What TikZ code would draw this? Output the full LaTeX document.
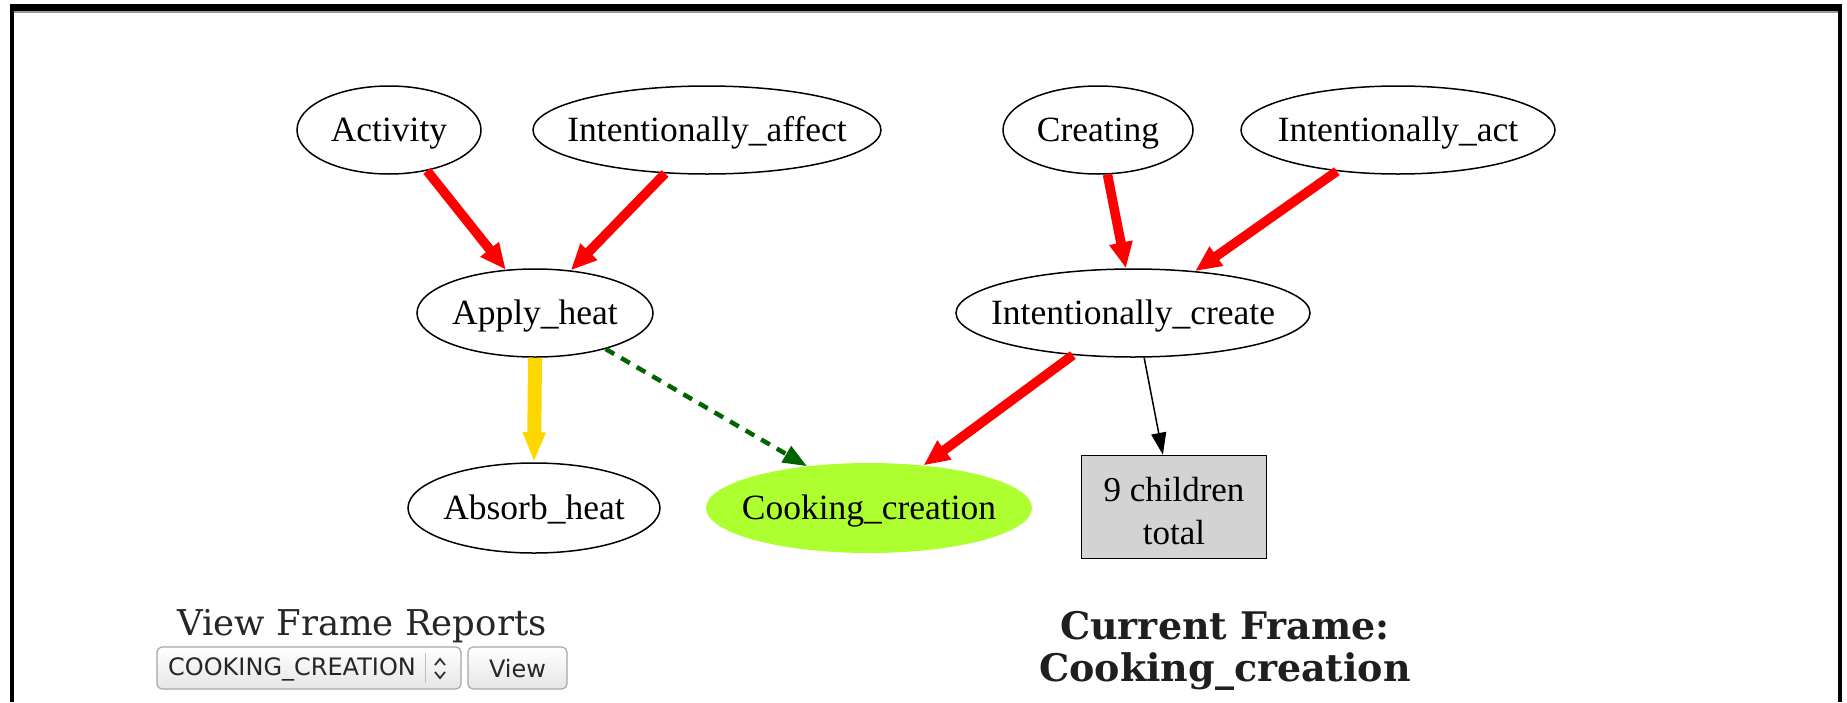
\documentclass[tikz,border=0pt]{standalone}
\usepackage{fontspec}
\setmainfont{Liberation Serif}
\newfontfamily\dvserif{DejaVu Serif}
\newfontfamily\dvsans{DejaVu Sans}
\usetikzlibrary{shapes.geometric,arrows.meta}
\definecolor{gvred}{HTML}{FF0000}
\definecolor{gvgold}{HTML}{FFD700}
\definecolor{gvgreen}{HTML}{006400}
\definecolor{gvyg}{HTML}{ADFF2F}
\definecolor{gvgray}{HTML}{D3D3D3}
\newcommand{\lbl}[1]{\makebox[0pt]{\raisebox{-11pt}[0pt][0pt]{#1}}}
\begin{document}
\begin{tikzpicture}[x=1pt,y=-1pt,
  fnode/.style={ellipse,draw=black,line width=1.5pt,inner sep=0pt,
    font=\fontsize{35.5}{40}\selectfont},
  curnode/.style={ellipse,draw=none,fill=gvyg,inner sep=0pt,
    font=\fontsize{35.5}{40}\selectfont},
  morebox/.style={rectangle,draw=black,line width=1.5pt,fill=gvgray,inner sep=0pt},
  moretext/.style={align=center,font=\fontsize{35}{43}\selectfont,inner sep=0pt},
  redarrow/.style={draw=gvred,line width=9.5pt,-{Triangle[length=26pt,width=22pt]}},
  goldarrow/.style={draw=gvgold,line width=14pt,-{Triangle[length=30pt,width=21pt]}},
  greenarrow/.style={draw=gvgreen,line width=4.5pt,dash pattern=on 10pt off 8pt,
    -{Triangle[length=24pt,width=18pt]}},
  blackarrow/.style={draw=black,line width=1.5pt,-{Triangle[length=22pt,width=15pt]}},
  btn/.style={rectangle,rounded corners=5pt,draw=black!35,line width=1.2pt,
    top color=white,bottom color=black!10,inner sep=0pt},
]
\useasboundingbox (0,0) rectangle (1847,702);
% page frame
\fill[black] (10,4) rectangle (1842,11);
\fill[black!40] (14,11) rectangle (1838,12.5);
\fill[black] (10,4) rectangle (14,702);
\fill[black] (1838,4) rectangle (1842,702);

% graph nodes
\node[fnode,minimum width=184pt,minimum height=88pt] (act) at (389,130) {\lbl{Activity}};
\node[fnode,minimum width=348pt,minimum height=88pt] (iaf) at (707,130) {\lbl{Intentionally\_affect}};
\node[fnode,minimum width=190pt,minimum height=88pt] (cre) at (1098,130) {\lbl{Creating}};
\node[fnode,minimum width=314pt,minimum height=88pt] (iac) at (1398,130) {\lbl{Intentionally\_act}};
\node[fnode,minimum width=236pt,minimum height=88pt] (aph) at (535,313) {\lbl{Apply\_heat}};
\node[fnode,minimum width=354pt,minimum height=88pt] (icr) at (1133,313) {\lbl{Intentionally\_create}};
\node[fnode,minimum width=252pt,minimum height=90pt] (abh) at (534,508) {\lbl{Absorb\_heat}};
\node[curnode,minimum width=326pt,minimum height=90pt] (coo) at (869,508) {\lbl{Cooking\_creation}};
\node[morebox,minimum width=185pt,minimum height=103pt] (more) at (1174,507) {};
\node[moretext] (moretxt) at ([yshift=-4pt]more.center) {9 children\\total};

% connectors
\draw[redarrow] (act.-47) -- (aph.124);
\draw[redarrow] (iaf.-134) -- (aph.50);
\draw[redarrow] (cre.-78) -- (icr.99);
\draw[redarrow] (iac.-146) -- (icr.34);
\draw[goldarrow] (aph.south) -- (abh.north);
\draw[greenarrow] (aph.-27) -- (coo.146);
\draw[redarrow] (icr.-145) -- (coo.38);
\draw[blackarrow] (icr.-76) -- (more.102);

% bottom controls
\node[font=\dvserif\fontsize{35.5}{40}\selectfont,text=black!85,anchor=base] (vfr) at (362,635) {View Frame Reports};
\node[btn,minimum width=304pt,minimum height=42pt] (sel) at (309,668) {};
\node[font=\dvsans\fontsize{24}{28}\selectfont,text=black!85,anchor=west,inner sep=0pt] (seltxt) at (168,669) {COOKING\_CREATION};
\draw[black!25,line width=1pt] (425,653) -- (425,683);
\draw[black!80,line width=1.8pt] (435,665) -- (440,659) -- (445,665);
\draw[black!80,line width=1.8pt] (435,672) -- (440,678) -- (445,672);
\node[btn,minimum width=99pt,minimum height=42pt] (viewbtn) at (517.5,668) {};
\node[font=\dvsans\fontsize{24}{28}\selectfont,text=black!85,inner sep=0pt] (viewtxt) at (517.5,669) {View};
\node[font=\dvserif\bfseries\fontsize{38}{42}\selectfont,text=black!88,align=center,anchor=base] (cur) at (1225,681) {Current Frame:\\Cooking\_creation};
\end{tikzpicture}
\end{document}
